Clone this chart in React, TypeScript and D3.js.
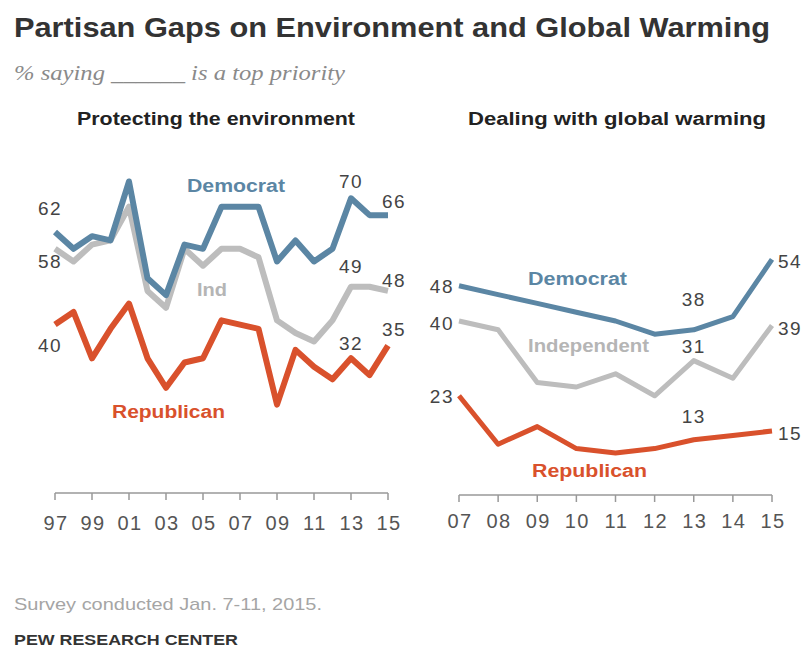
import React from "react";
import * as d3 from "d3";

const leftYears = [1997, 1998, 1999, 2000, 2001, 2002, 2003, 2004, 2005, 2006, 2007, 2008, 2009, 2010, 2011, 2012, 2013, 2014, 2015];
const leftDem = [62, 58, 61, 60, 74, 51, 47, 59, 58, 68, 68, 68, 55, 60, 55, 58, 70, 66, 66];
const leftInd = [58, 55, 59, 60, 68, 48, 44, 58, 54, 58, 58, 56, 41, 38, 36, 41, 49, 49, 48];
const leftRep = [40, 43, 32, 39, 45, 32, 25, 31, 32, 41, 40, 39, 21, 34, 30, 27, 32, 28, 35];
const leftTicks = [1997, 1999, 2001, 2003, 2005, 2007, 2009, 2011, 2013, 2015];

const rightYears = [2007, 2008, 2009, 2010, 2011, 2012, 2013, 2014, 2015];
const rightDem = [48, 46, 44, 42, 40, 37, 38, 41, 54];
const rightInd = [40, 38, 26, 25, 28, 23, 31, 27, 39];
const rightRep = [23, 12, 16, 11, 10, 11, 13, 14, 15];
const rightTicks = [2007, 2008, 2009, 2010, 2011, 2012, 2013, 2014, 2015];

const DEM = "#5b86a4";
const IND = "#bdbdbd";
const REP = "#d9512c";
const NUM = "#444";
const SANS = "'Liberation Sans', Arial, sans-serif";

const fmt = (y: number) => String(y).slice(2);

export default function App() {
  const xL = d3.scaleLinear().domain([1997, 2015]).range([55, 388]);
  const yL = d3.scaleLinear().domain([0, 100]).range([493, 72]);
  const xR = d3.scaleLinear().domain([2007, 2015]).range([459, 772]);
  const yR = d3.scaleLinear().domain([0, 100]).range([497, 57]);

  const lineL = (vals: number[]) =>
    d3.line<number>().x((_, i) => xL(leftYears[i])).y((v) => yL(v))(vals) || "";
  const lineR = (vals: number[]) =>
    d3.line<number>().x((_, i) => xR(rightYears[i])).y((v) => yR(v))(vals) || "";

  const numStyle = { fontFamily: SANS, fontSize: 19, fill: NUM, letterSpacing: 1.5 } as const;
  const tickStyle = { fontFamily: SANS, fontSize: 20, fill: "#555", letterSpacing: 1.5 } as const;
  const serStyle = { fontFamily: SANS, fontSize: 18, fontWeight: 700 } as const;

  const last = (a: number[]) => a[a.length - 1];

  return (
    <svg width={808} height={648} style={{ position: "absolute", left: 0, top: 0, background: "#fff" }}>
      <rect width={808} height={648} fill="#fff" />
      {/* Titles */}
      <text x={14} y={37} fontFamily={SANS} fontSize={28} fontWeight={700} fill="#333" textLength={756} lengthAdjust="spacingAndGlyphs">
        Partisan Gaps on Environment and Global Warming
      </text>
      <text x={14} y={80} fontFamily="'Liberation Serif', 'DejaVu Serif', serif" fontStyle="italic" fontSize={21} fill="#8a8a8a" textLength={331} lengthAdjust="spacingAndGlyphs">
        % saying ______ is a top priority
      </text>
      <text x={77} y={125} fontFamily={SANS} fontSize={18} fontWeight={700} fill="#222" textLength={278} lengthAdjust="spacingAndGlyphs">
        Protecting the environment
      </text>
      <text x={468} y={125} fontFamily={SANS} fontSize={18} fontWeight={700} fill="#222" textLength={298} lengthAdjust="spacingAndGlyphs">
        Dealing with global warming
      </text>

      {/* Left axis */}
      <line x1={xL(1997)} x2={xL(2015)} y1={493} y2={493} stroke="#999" strokeWidth={1.5} />
      {leftTicks.map((t) => (
        <g key={t}>
          <line x1={xL(t)} x2={xL(t)} y1={493} y2={500} stroke="#999" strokeWidth={1.5} />
          <text x={xL(t) + 1} y={530} textAnchor="middle" {...tickStyle}>{fmt(t)}</text>
        </g>
      ))}

      {/* Right axis */}
      <line x1={xR(2007)} x2={xR(2015)} y1={495} y2={495} stroke="#999" strokeWidth={1.5} />
      {rightTicks.map((t) => (
        <g key={t}>
          <line x1={xR(t)} x2={xR(t)} y1={495} y2={502} stroke="#999" strokeWidth={1.5} />
          <text x={xR(t) + 1} y={528} textAnchor="middle" {...tickStyle}>{fmt(t)}</text>
        </g>
      ))}

      {/* Left lines */}
      <path d={lineL(leftInd)} fill="none" stroke={IND} strokeWidth={6} strokeLinejoin="round" />
      <path d={lineL(leftRep)} fill="none" stroke={REP} strokeWidth={6} strokeLinejoin="round" />
      <path d={lineL(leftDem)} fill="none" stroke={DEM} strokeWidth={6} strokeLinejoin="round" />

      {/* Right lines */}
      <path d={lineR(rightInd)} fill="none" stroke={IND} strokeWidth={5} strokeLinejoin="round" />
      <path d={lineR(rightRep)} fill="none" stroke={REP} strokeWidth={5} strokeLinejoin="round" />
      <path d={lineR(rightDem)} fill="none" stroke={DEM} strokeWidth={5} strokeLinejoin="round" />

      {/* Left series labels */}
      <text x={187} y={192} {...serStyle} fill={DEM} textLength={98} lengthAdjust="spacingAndGlyphs">Democrat</text>
      <text x={197} y={296} {...serStyle} fill="#b5b5b5" textLength={30} lengthAdjust="spacingAndGlyphs">Ind</text>
      <text x={112} y={418} {...serStyle} fill={REP} textLength={113} lengthAdjust="spacingAndGlyphs">Republican</text>

      {/* Right series labels */}
      <text x={528} y={285} {...serStyle} fill={DEM} textLength={99} lengthAdjust="spacingAndGlyphs">Democrat</text>
      <text x={528} y={352} {...serStyle} fill="#b5b5b5" textLength={121} lengthAdjust="spacingAndGlyphs">Independent</text>
      <text x={532} y={477} {...serStyle} fill={REP} textLength={115} lengthAdjust="spacingAndGlyphs">Republican</text>

      {/* Left value labels */}
      <text x={xL(1997) - 5} y={yL(leftDem[0]) - 17} textAnchor="middle" {...numStyle}>{leftDem[0]}</text>
      <text x={xL(1997) - 5} y={yL(leftInd[0]) + 19} textAnchor="middle" {...numStyle}>{leftInd[0]}</text>
      <text x={xL(1997) - 5} y={yL(leftRep[0]) + 27} textAnchor="middle" {...numStyle}>{leftRep[0]}</text>
      <text x={xL(2013)} y={yL(leftDem[16]) - 10} textAnchor="middle" {...numStyle}>{leftDem[16]}</text>
      <text x={xL(2013)} y={yL(leftInd[16]) - 14} textAnchor="middle" {...numStyle}>{leftInd[16]}</text>
      <text x={xL(2013)} y={yL(leftRep[16]) - 8} textAnchor="middle" {...numStyle}>{leftRep[16]}</text>
      <text x={xL(2015) + 6} y={yL(last(leftDem)) - 7} textAnchor="middle" {...numStyle}>{last(leftDem)}</text>
      <text x={xL(2015) + 6} y={yL(last(leftInd)) - 4} textAnchor="middle" {...numStyle}>{last(leftInd)}</text>
      <text x={xL(2015) + 6} y={yL(last(leftRep)) - 10} textAnchor="middle" {...numStyle}>{last(leftRep)}</text>

      {/* Right value labels */}
      <text x={xR(2007) - 5} y={yR(rightDem[0]) + 7} textAnchor="end" {...numStyle}>{rightDem[0]}</text>
      <text x={xR(2007) - 5} y={yR(rightInd[0]) + 9} textAnchor="end" {...numStyle}>{rightInd[0]}</text>
      <text x={xR(2007) - 5} y={yR(rightRep[0]) + 7} textAnchor="end" {...numStyle}>{rightRep[0]}</text>
      <text x={xR(2013)} y={yR(rightDem[6]) - 24} textAnchor="middle" {...numStyle}>{rightDem[6]}</text>
      <text x={xR(2013)} y={yR(rightInd[6]) - 8} textAnchor="middle" {...numStyle}>{rightInd[6]}</text>
      <text x={xR(2013)} y={yR(rightRep[6]) - 17} textAnchor="middle" {...numStyle}>{rightRep[6]}</text>
      <text x={xR(2015) + 6} y={yR(last(rightDem)) + 9} {...numStyle}>{last(rightDem)}</text>
      <text x={xR(2015) + 6} y={yR(last(rightInd)) + 10} {...numStyle}>{last(rightInd)}</text>
      <text x={xR(2015) + 6} y={yR(last(rightRep)) + 9} {...numStyle}>{last(rightRep)}</text>

      {/* Footer */}
      <text x={14} y={610} fontFamily={SANS} fontSize={17} fill="#a5a5a5" textLength={308} lengthAdjust="spacingAndGlyphs">
        Survey conducted Jan. 7-11, 2015.
      </text>
      <text x={14} y={645} fontFamily={SANS} fontSize={14} fontWeight={700} fill="#333" textLength={224} lengthAdjust="spacingAndGlyphs">
        PEW RESEARCH CENTER
      </text>
    </svg>
  );
}
